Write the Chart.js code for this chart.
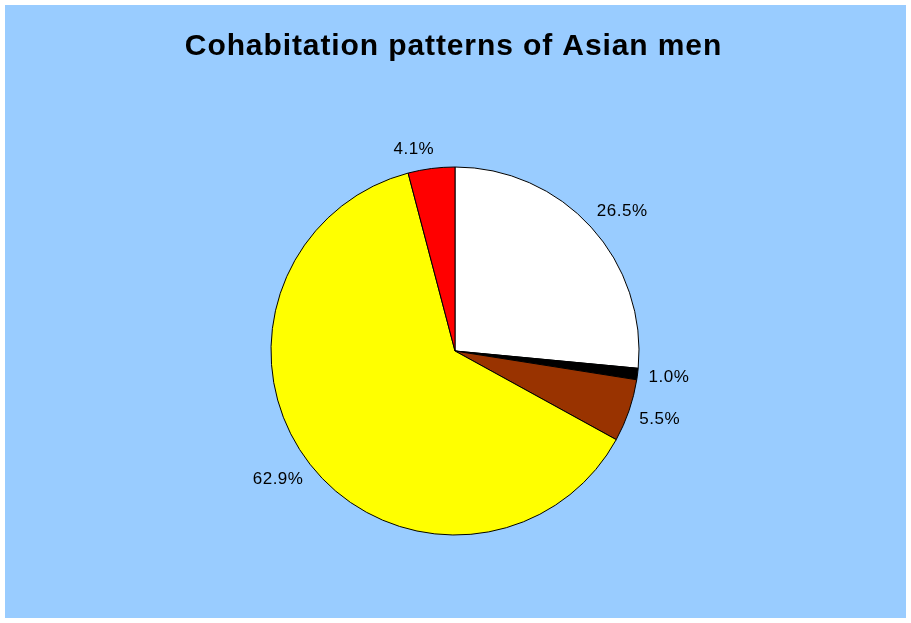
<!DOCTYPE html>
<html>
<head>
<meta charset="utf-8">
<script src="https://cdn.jsdelivr.net/npm/chart.js@4/dist/chart.umd.min.js"></script>
<style>
  body { margin: 0; background: #ffffff; }
  #wrap { position: absolute; left: 5px; top: 5px; width: 901px; height: 613px; background: #99ccff; }
</style>
</head>
<body>
<div id="wrap"><canvas id="myPieChart" width="901" height="613"></canvas></div>
<script>
// data
const categories = ['Group 1', 'Group 2', 'Group 3', 'Group 4', 'Group 5'];
const shares = [26.5, 1.0, 5.5, 62.9, 4.1];
const sliceColors = ['#ffffff', '#000000', '#993300', '#ffff00', '#ff0000'];
const chartTitle = 'Cohabitation patterns of Asian men';

// title drawn by hand so the letters can be spaced like the original
const titlePlugin = {
    id: 'titlePlugin',
    afterDraw(chart) {
        const ctx = chart.ctx;
        ctx.save();
        ctx.font = 'bold 30px "Liberation Sans", Arial, sans-serif';
        ctx.letterSpacing = '0.9px';
        ctx.fillStyle = '#000000';
        ctx.textAlign = 'left';
        ctx.textBaseline = 'alphabetic';
        const w = ctx.measureText(chartTitle).width;
        ctx.fillText(chartTitle, 448.5 - w / 2, 49.5);
        ctx.restore();
    }
};

// percent labels outside each slice
const outsideLabels = {
    id: 'outsideLabels',
    afterDatasetsDraw(chart) {
        const ctx = chart.ctx;
        const arcs = chart.getDatasetMeta(0).data;
        ctx.save();
        ctx.font = '17px "Liberation Sans", Arial, sans-serif';
        ctx.letterSpacing = '0.5px';
        ctx.fillStyle = '#000000';
        ctx.textAlign = 'center';
        ctx.textBaseline = 'middle';
        arcs.forEach(function(arc, i) {
            const mid = (arc.startAngle + arc.endAngle) / 2;
            const dx = Math.cos(mid), dy = Math.sin(mid);
            const text = shares[i].toFixed(1) + '%';
            const halfW = ctx.measureText(text).width / 2;
            const x = arc.x + dx * (arc.outerRadius + 16) + Math.sign(dx) * halfW * 0.76;
            const y = arc.y + dy * (arc.outerRadius + 18 + 8 * Math.abs(dx));
            ctx.fillText(text, x, y);
        });
        ctx.restore();
    }
};

const ctx = document.getElementById('myPieChart').getContext('2d');
const myPieChart = new Chart(ctx, {
    type: 'pie',
    data: {
        labels: categories,
        datasets: [{
            data: shares,
            backgroundColor: sliceColors,
            borderColor: '#000000',
            borderWidth: 1,
            hoverOffset: 0
        }]
    },
    options: {
        responsive: false,
        animation: false,
        events: [],
        radius: 184,
        layout: { padding: { left: 266, right: 267, top: 162, bottom: 83 } },
        plugins: {
            legend: { display: false },
            tooltip: { enabled: false },
            title: { display: false }
        }
    },
    plugins: [outsideLabels, titlePlugin]
});
</script>
</body>
</html>
